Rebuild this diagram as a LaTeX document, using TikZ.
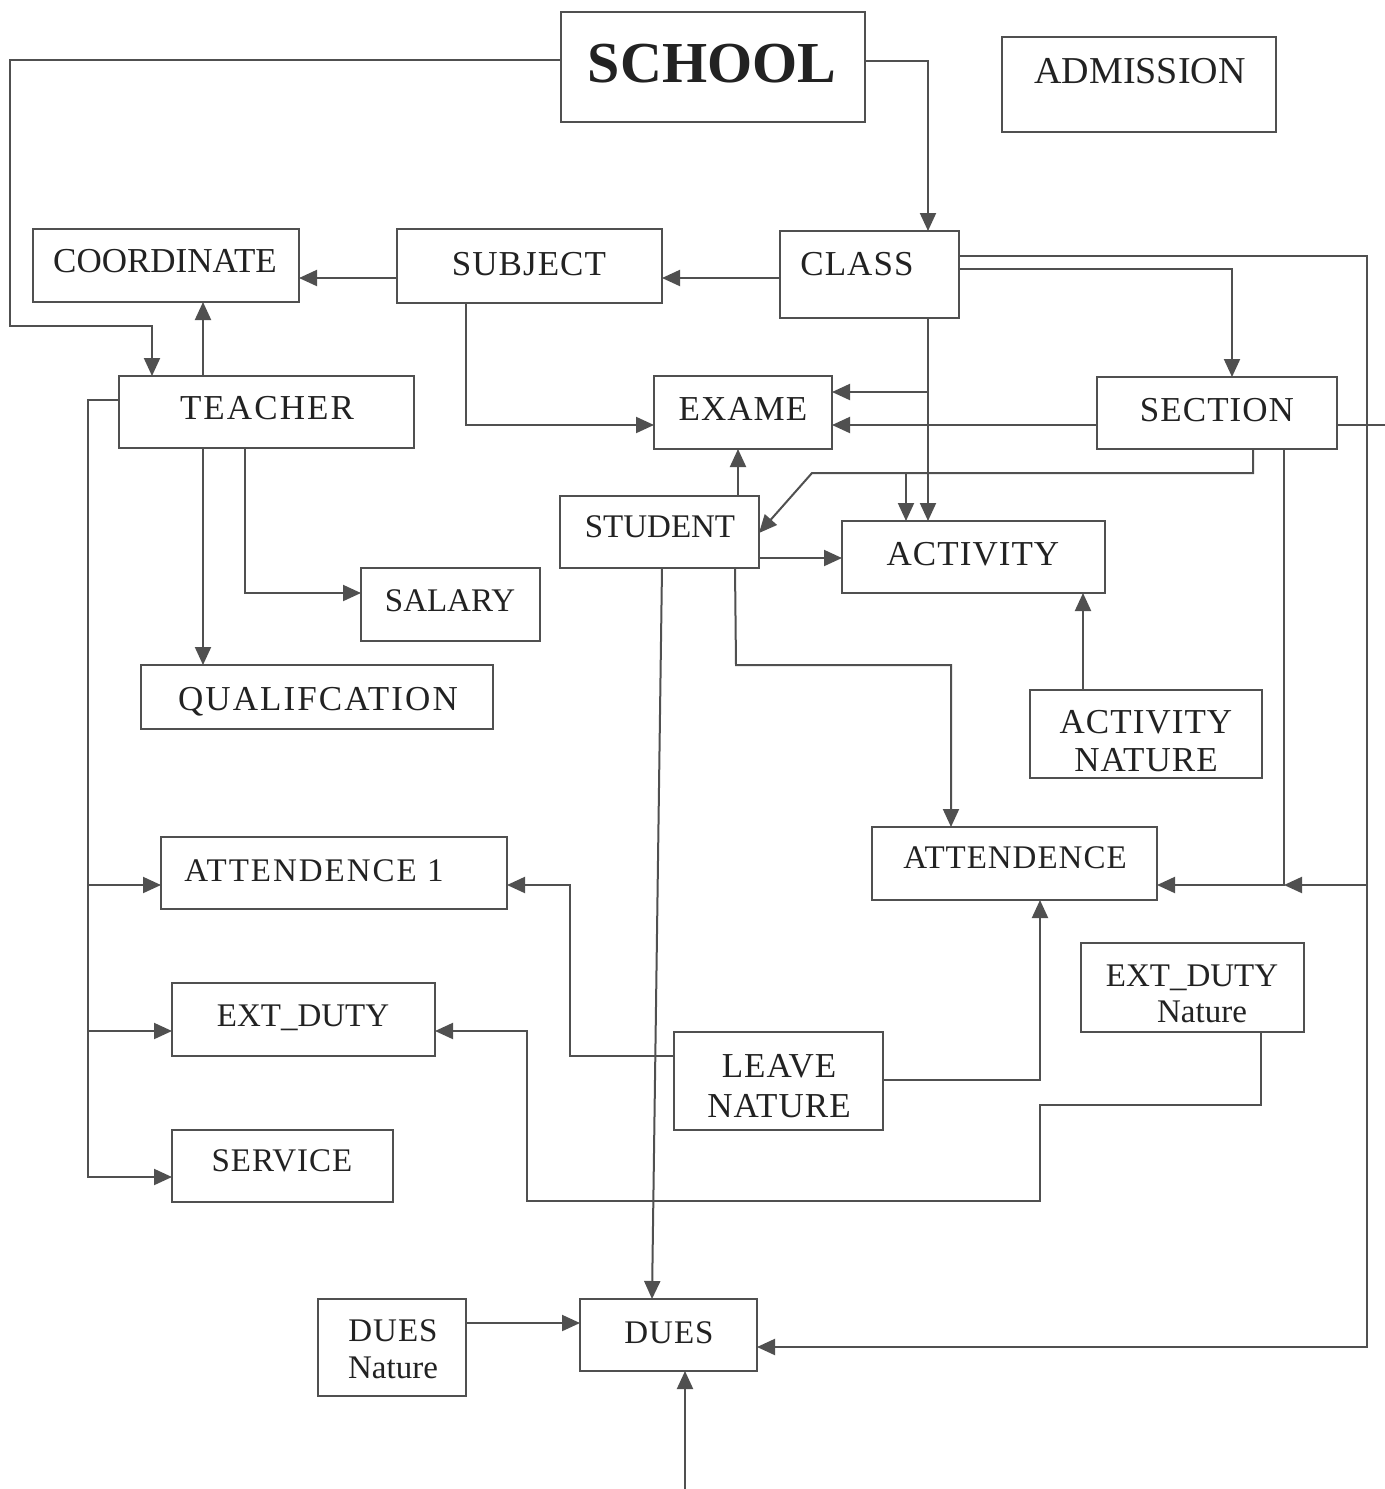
\documentclass[tikz,border=0pt]{standalone}
\usepackage{fontspec}
\setmainfont{Liberation Serif}
\usetikzlibrary{arrows.meta}
\definecolor{ln}{HTML}{505050}
\definecolor{txt}{HTML}{222222}
\tikzset{
  bx/.style={draw=ln, line width=1pt, inner sep=0pt, outer sep=0pt, rectangle},
  lbl/.style={text=txt, inner sep=0pt, anchor=base, font=\fontsize{17.5}{20}\selectfont\addfontfeature{LetterSpace=3}},
  lblp/.style={lbl, font=\fontsize{17.5}{20}\selectfont},
  lblw/.style={lbl, font=\fontsize{17.5}{20}\selectfont\addfontfeature{LetterSpace=6}},
  sml/.style={lbl, font=\fontsize{16.5}{18}\selectfont\addfontfeature{LetterSpace=3}},
  smlp/.style={lbl, font=\fontsize{16.5}{18}\selectfont},
  smlw/.style={lbl, font=\fontsize{16.5}{18}\selectfont\addfontfeature{LetterSpace=6}},
  con/.style={draw=ln, line width=1pt},
  arr/.style={con, -{Triangle[length=9pt,width=8pt]}},
}
\newcommand\mkbox[5]{\node[bx, minimum width={(#4-#2)*0.5pt}, minimum height={(#5-#3)*0.5pt}] (#1) at ({(#2+#4)/2},{(#3+#5)/2}) {};}
\begin{document}
\begin{tikzpicture}[x=0.5pt,y=-0.5pt]
\fill[white] (0,0) rectangle (1385,1489);
\useasboundingbox (0,0) rectangle (1385,1489);

% boxes
\mkbox{school}{561}{12}{865}{122}
\mkbox{admission}{1002}{37}{1276}{132}
\mkbox{coord}{33}{229}{299}{302}
\mkbox{subject}{397}{229}{662}{303}
\mkbox{class}{780}{231}{959}{318}
\mkbox{teacher}{119}{376}{414}{448}
\mkbox{exame}{654}{376}{832}{449}
\mkbox{section}{1097}{377}{1337}{449}
\mkbox{student}{560}{496}{759}{568}
\mkbox{activity}{842}{521}{1105}{593}
\mkbox{salary}{361}{568}{540}{641}
\mkbox{qual}{141}{665}{493}{729}
\mkbox{actnat}{1030}{690}{1262}{778}
\mkbox{att1}{161}{837}{507}{909}
\mkbox{att}{872}{827}{1157}{900}
\mkbox{extduty}{172}{983}{435}{1056}
\mkbox{extnat}{1081}{943}{1304}{1032}
\mkbox{leave}{674}{1032}{883}{1130}
\mkbox{service}{172}{1130}{393}{1202}
\mkbox{duesnat}{318}{1299}{466}{1396}
\mkbox{dues}{580}{1299}{757}{1371}

% labels
\node[lbl, font=\fontsize{29}{32}\selectfont\bfseries] (school-t) at (712,82) {SCHOOL};
\node[lbl, font=\fontsize{19}{22}\selectfont] (admission-t) at (1140,83) {ADMISSION};
\node[lblp] (coord-t) at (165,272) {COORDINATE};
\node[lbl] (subject-t) at (529,275) {SUBJECT};
\node[lbl] (class-t) at (857,275) {CLASS};
\node[lblw] (teacher-t) at (267,419) {TEACHER};
\node[lbl] (exame-t) at (743,420) {EXAME};
\node[lbl] (section-t) at (1217,421) {SECTION};
\node[smlp] (student-t) at (660,537) {STUDENT};
\node[lbl] (activity-t) at (973,565) {ACTIVITY};
\node[smlp] (salary-t) at (450,611) {SALARY};
\node[lblw] (qual-t) at (318,710) {QUALIFCATION};
\node[lbl] (actnat-t1) at (1146,733) {ACTIVITY};
\node[lbl] (actnat-t2) at (1146,771) {NATURE};
\node[smlw] (att1-t) at (314,881) {ATTENDENCE 1};
\node[sml] (att-t) at (1015,868) {ATTENDENCE};
\node[smlp] (extduty-t) at (303,1026) {EXT\_DUTY};
\node[smlp] (extnat-t1) at (1192,986) {EXT\_DUTY};
\node[smlp] (extnat-t2) at (1202,1022) {Nature};
\node[lbl] (leave-t1) at (779,1077) {LEAVE};
\node[lbl] (leave-t2) at (779,1117) {NATURE};
\node[sml] (service-t) at (282,1171) {SERVICE};
\node[sml] (duesnat-t1) at (393,1341) {DUES};
\node[smlp] (duesnat-t2) at (393,1378) {Nature};
\node[sml] (dues-t) at (669,1343) {DUES};

% junction coordinates
\coordinate (jr) at (1367,885);
\coordinate (js) at (1284,885);
\coordinate (jc) at (928,392);
\coordinate (ja) at (906,473);
\coordinate (jt1) at (88,885);
\coordinate (jt2) at (88,1031);
\coordinate (edge) at (1385,425);
\coordinate (bot) at (685,1489);

% connectors
\draw[arr] (school.west |- 0,60) -- (10,60) -- (10,326) -- (152,326) -- (teacher.north -| 152,0);
\draw[arr] (school.east |- 0,61) -- (928,61) -- (class.north -| 928,0);
\draw[arr] (teacher.north -| 203,0) -- (coord.south -| 203,0);
\draw[arr] (subject.west |- 0,278) -- (coord.east |- 0,278);
\draw[arr] (class.west |- 0,278) -- (subject.east |- 0,278);
\draw[arr] (subject.south -| 466,0) -- (466,425) -- (exame.west |- 0,425);
\draw[arr] (class.east |- 0,256) -- (1367,256) -- (1367,1347) -- (dues.east |- 0,1347);
\draw[arr] (jr) -- (js);
\draw[arr] (class.east |- 0,269) -- (1232,269) -- (section.north -| 1232,0);
\draw[arr] (class.south -| 928,0) -- (activity.north -| 928,0);
\draw[arr] (jc) -- (exame.east |- 0,392);
\draw[arr] (section.west |- 0,425) -- (exame.east |- 0,425);
\draw[con] (section.east |- 0,425) -- (edge);
\draw[arr] (section.south -| 1253,0) -- (1253,473) -- (812,473) -- (student.east |- 0,533);
\draw[arr] (ja) -- (activity.north -| 906,0);
\draw[arr] (section.south -| 1284,0) -- (js) -- (att.east |- 0,885);
\draw[arr] (student.north -| 738,0) -- (exame.south -| 738,0);
\draw[arr] (student.east |- 0,558) -- (activity.west |- 0,558);
\draw[arr] (student.south -| 662,0) -- (dues.north -| 652,0);
\draw[arr] (student.south -| 735,0) -- (736,665) -- (951,665) -- (att.north -| 951,0);
\draw[arr] (actnat.north -| 1083,0) -- (activity.south -| 1083,0);
\draw[arr] (teacher.west |- 0,400) -- (88,400) -- (88,1177) -- (service.west |- 0,1177);
\draw[arr] (jt1) -- (att1.west |- 0,885);
\draw[arr] (jt2) -- (extduty.west |- 0,1031);
\draw[arr] (teacher.south -| 203,0) -- (qual.north -| 203,0);
\draw[arr] (teacher.south -| 245,0) -- (245,593) -- (salary.west |- 0,593);
\draw[arr] (leave.west |- 0,1056) -- (570,1056) -- (570,885) -- (att1.east |- 0,885);
\draw[arr] (leave.east |- 0,1080) -- (1040,1080) -- (att.south -| 1040,0);
\draw[arr] (extnat.south -| 1261,0) -- (1261,1105) -- (1040,1105) -- (1040,1201) -- (527,1201) -- (527,1031) -- (extduty.east |- 0,1031);
\draw[arr] (duesnat.east |- 0,1323) -- (dues.west |- 0,1323);
\draw[arr] (bot) -- (dues.south -| 685,0);
\end{tikzpicture}
\end{document}
